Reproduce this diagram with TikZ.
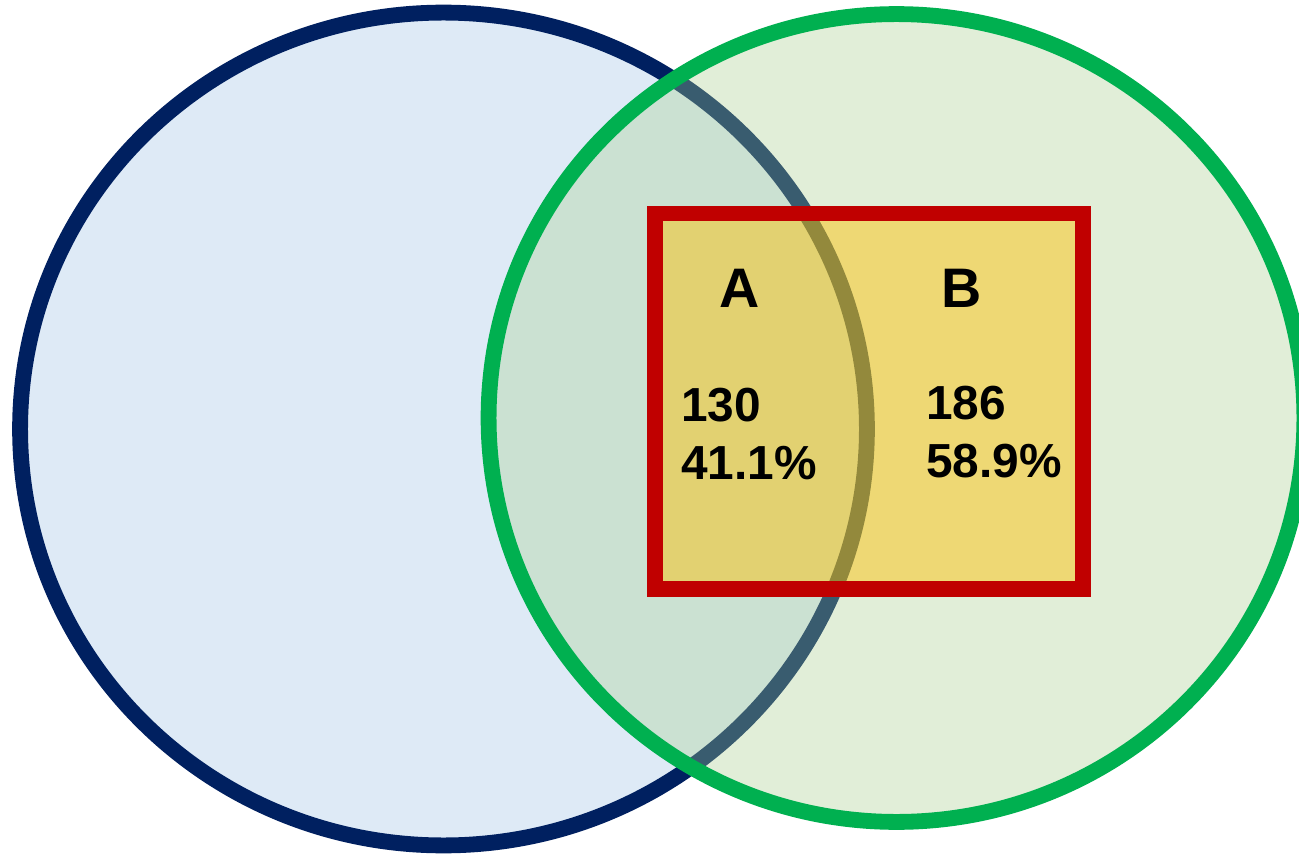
\documentclass[tikz,border=0pt]{standalone}
\usepackage{fontspec}
\setmainfont{Liberation Sans}
\definecolor{navy}{HTML}{002060}
\definecolor{bluefill}{HTML}{DEEAF6}
\definecolor{grline}{HTML}{00B050}
\definecolor{grfill}{HTML}{A9D08E}
\definecolor{redline}{HTML}{C00000}
\definecolor{yelfill}{HTML}{FFC000}
\tikzset{
  setA/.style={draw=navy, fill=bluefill, line width=9pt},
  setB/.style={draw=grline, fill=grfill, fill opacity=0.34, line width=9pt},
  selbox/.style={draw=redline, fill=yelfill, fill opacity=0.46, line width=9pt},
  letter/.style={font=\bfseries\fontsize{31.7}{38}\selectfont, inner sep=0pt, anchor=base},
  num/.style={font=\bfseries\fontsize{27.2}{32}\selectfont, inner sep=0pt, anchor=base west},
}
\begin{document}
\begin{tikzpicture}[x=0.02cm, y=-0.02cm]
\useasboundingbox (0,0) rectangle (1299,855);
\fill[white] (0,0) rectangle (1299,855);
\draw[setA] (443.5,429) ellipse [x radius=8.47cm, y radius=8.33cm];
\draw[setB] (896.5,418) ellipse [x radius=8.16cm, y radius=8.08cm];
\draw[selbox] (655,213.5) rectangle (1083,589);
\node[letter] (lA) at (740,307) {A};
\node[letter] (lB) at (962,307) {B};
\node[num] (nA) at (681,421) {130};
\node[num] (pA) at (681,479) {41.1\%};
\node[num] (nB) at (926,419) {186};
\node[num] (pB) at (926,477) {58.9\%};
\end{tikzpicture}
\end{document}
